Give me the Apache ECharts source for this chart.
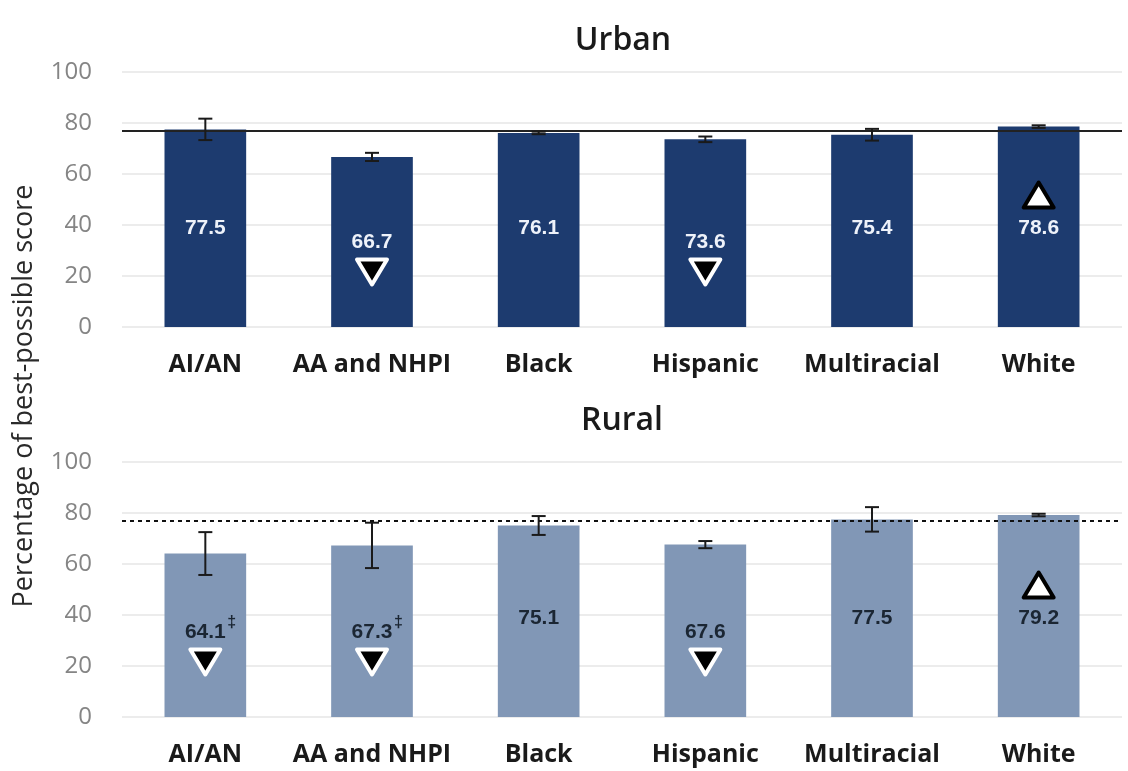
<!DOCTYPE html>
<html>
<head>
<meta charset="utf-8">
<script src="https://cdn.jsdelivr.net/npm/echarts@6/dist/echarts.min.js"></script>
<style>html,body{margin:0;padding:0;background:#fff;}#c{width:1128px;height:771px;}</style>
</head>
<body>
<div id="c"></div>
<script>
// ---- data ----
var categories = ['AI/AN', 'AA and NHPI', 'Black', 'Hispanic', 'Multiracial', 'White'];
var urbanValues = [77.5, 66.7, 76.1, 73.6, 75.4, 78.6];
var urbanErrors = [4.2, 1.6, 0.5, 1.1, 2.3, 0.5];
var urbanSignif = ['', 'down', '', 'down', '', 'up'];
var urbanDagger = [false, false, false, false, false, false];
var ruralValues = [64.1, 67.3, 75.1, 67.6, 77.5, 79.2];
var ruralErrors = [8.4, 8.9, 3.7, 1.4, 4.8, 0.5];
var ruralSignif = ['down', 'down', '', 'down', '', 'up'];
var ruralDagger = [true, true, false, false, false, false];
var urbanReference = 77.1;
var ruralReference = 77.1;
var yTicks = [0, 20, 40, 60, 80, 100];
var panelTitles = ['Urban', 'Rural'];
var yAxisTitle = 'Percentage of best-possible score';

// ---- styling ----
var URBAN_COLOR = '#1d3b6f';
var RURAL_COLOR = '#8197b6';
var FONT = '"Open Sans", "Noto Sans", sans-serif';
var NUMFONT = '"Liberation Sans", Arial, sans-serif';

function errData(vals, errs) {
  return vals.map(function (v, i) { return [i, v - errs[i], v + errs[i]]; });
}
function errRender(params, api) {
  var i = api.value(0);
  var lo = api.coord([i, api.value(1)]);
  var hi = api.coord([i, api.value(2)]);
  var cap = 7;
  var st = { stroke: '#1a1a1a', lineWidth: 2 };
  return {
    type: 'group',
    children: [
      { type: 'line', shape: { x1: lo[0], y1: lo[1], x2: hi[0], y2: hi[1] }, style: st },
      { type: 'line', shape: { x1: lo[0] - cap, y1: lo[1], x2: lo[0] + cap, y2: lo[1] }, style: st },
      { type: 'line', shape: { x1: hi[0] - cap, y1: hi[1], x2: hi[0] + cap, y2: hi[1] }, style: st }
    ]
  };
}
function annotRender(vals, signif, dagger, textColor) {
  return function (params, api) {
    var i = api.value(0);
    var base = api.coord([i, 0]);
    var cx = base[0];
    var sig = signif[i];
    var ty = base[1] - (sig === 'down' ? 85 : 99);
    var children = [{
      type: 'text',
      style: {
        text: vals[i].toFixed(1), x: cx, y: ty,
        font: 'bold 21px ' + NUMFONT, fill: textColor,
        align: 'center', verticalAlign: 'middle'
      }
    }];
    if (dagger[i]) {
      children.push({
        type: 'text',
        style: {
          text: '\u2021', x: cx + 22, y: ty - 9,
          font: 'bold 16px ' + NUMFONT, fill: textColor,
          align: 'left', verticalAlign: 'middle'
        }
      });
    }
    var w = 15, h = 25;
    if (sig === 'down') {
      var cy = base[1] - 55;
      children.push({
        type: 'polygon',
        shape: { points: [[cx - w, cy - h / 2], [cx + w, cy - h / 2], [cx, cy + h / 2]] },
        style: { fill: '#000', stroke: '#fff', lineWidth: 4, lineJoin: 'round' }
      });
    } else if (sig === 'up') {
      var cu = base[1] - 132;
      children.push({
        type: 'polygon',
        shape: { points: [[cx - w, cu + h / 2], [cx + w, cu + h / 2], [cx, cu - h / 2]] },
        style: { fill: '#fff', stroke: '#000', lineWidth: 4, lineJoin: 'round' }
      });
    }
    return { type: 'group', children: children };
  };
}

function yAxisCfg(gi) {
  return {
    type: 'value', gridIndex: gi, min: yTicks[0], max: yTicks[yTicks.length - 1], interval: 20,
    axisLine: { show: false }, axisTick: { show: false },
    axisLabel: { fontFamily: FONT, fontSize: 24, color: '#858585', margin: 30 },
    splitLine: { lineStyle: { color: '#e6e6e6', width: 1.5 } }
  };
}
function xAxisCfg(gi) {
  return {
    type: 'category', gridIndex: gi, data: categories,
    axisLine: { show: false }, axisTick: { show: false },
    axisLabel: { interval: 0, fontFamily: FONT, fontSize: 25, fontWeight: 'bold', color: '#1a1a1a', margin: 25 }
  };
}
var idx = categories.map(function (c, i) { return i; });

var option = {
  backgroundColor: '#fff',
  animation: false,
  grid: [
    { left: 122, right: 6, top: 72, height: 255 },
    { left: 122, right: 6, top: 462, height: 255 }
  ],
  xAxis: [xAxisCfg(0), xAxisCfg(1)],
  yAxis: [yAxisCfg(0), yAxisCfg(1)],
  graphic: [
    {
      type: 'text', x: 24, y: 396, rotation: Math.PI / 2,
      style: { text: yAxisTitle, font: '27px ' + FONT, fill: '#2a2a2a', align: 'center', verticalAlign: 'middle' }
    },
    {
      type: 'text', x: 623, y: 41,
      style: { text: panelTitles[0], font: '600 32px ' + FONT, fill: '#1a1a1a', align: 'center', verticalAlign: 'middle' }
    },
    {
      type: 'text', x: 622, y: 421,
      style: { text: panelTitles[1], font: '600 32px ' + FONT, fill: '#1a1a1a', align: 'center', verticalAlign: 'middle' }
    }
  ],
  series: [
    {
      type: 'bar', xAxisIndex: 0, yAxisIndex: 0, data: urbanValues, barWidth: '49%',
      itemStyle: { color: URBAN_COLOR },
      markLine: {
        silent: true, symbol: 'none', label: { show: false },
        lineStyle: { color: '#222', width: 2, type: 'solid' },
        data: [{ yAxis: urbanReference }]
      },
      z: 2
    },
    {
      type: 'bar', xAxisIndex: 1, yAxisIndex: 1, data: ruralValues, barWidth: '49%',
      itemStyle: { color: RURAL_COLOR },
      markLine: {
        silent: true, symbol: 'none', label: { show: false },
        lineStyle: { color: '#111', width: 2, type: [4, 4] },
        data: [{ yAxis: ruralReference }]
      },
      z: 2
    },
    { type: 'custom', xAxisIndex: 0, yAxisIndex: 0, data: errData(urbanValues, urbanErrors), renderItem: errRender, z: 5 },
    { type: 'custom', xAxisIndex: 1, yAxisIndex: 1, data: errData(ruralValues, ruralErrors), renderItem: errRender, z: 5 },
    { type: 'custom', xAxisIndex: 0, yAxisIndex: 0, data: idx, renderItem: annotRender(urbanValues, urbanSignif, urbanDagger, '#eef2fa'), z: 6 },
    { type: 'custom', xAxisIndex: 1, yAxisIndex: 1, data: idx, renderItem: annotRender(ruralValues, ruralSignif, ruralDagger, '#1b2633'), z: 6 }
  ]
};
var chart = echarts.init(document.getElementById('c'), null, { renderer: 'canvas' });
chart.setOption(option);
</script>
</body>
</html>
